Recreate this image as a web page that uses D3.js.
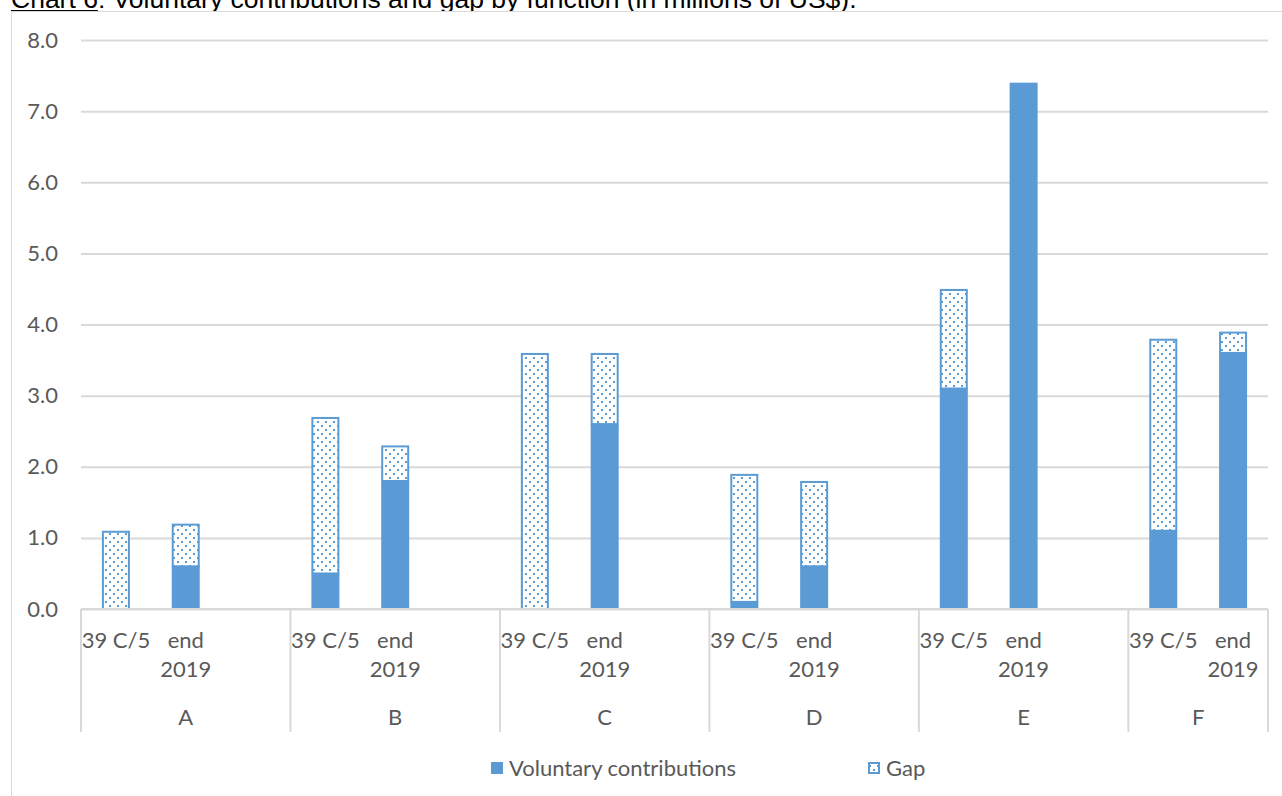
<!DOCTYPE html>
<html><head><meta charset="utf-8">
<script src="https://cdn.jsdelivr.net/npm/d3@7"></script>
<style>body{margin:0;background:#fff;} svg{display:block;}</style>
</head><body>
<svg id="c" width="1282" height="796"></svg>
<script>
const groups = ["A","B","C","D","E","F"];
const subLabels = ["39 C/5","end 2019"];
const voluntary = [[0,0.6],[0.5,1.8],[0,2.6],[0.1,0.6],[3.1,7.4],[1.1,3.6]];
const gap = [[1.1,0.6],[2.2,0.5],[3.6,1.0],[1.8,1.2],[1.4,0],[2.7,0.3]];
const yTicks = [0,1,2,3,4,5,6,7,8];
const seriesNames = ["Voluntary contributions","Gap"];
const titleText = "Voluntary contributions and gap by function (in millions of US$).";

const blue = "#5b9bd5", grid = "#d9d9d9", txt = "#595959";
const font = "Lato, 'Open Sans', sans-serif";
const fs = 22;
const svg = d3.select("#c");
const defs = svg.append("defs");
const pat = defs.append("pattern").attr("id","dots").attr("patternUnits","userSpaceOnUse")
  .attr("width",8).attr("height",8);
pat.append("rect").attr("width",8).attr("height",8).attr("fill","#fff");
pat.append("rect").attr("x",1).attr("y",1).attr("width",2).attr("height",2).attr("fill",blue);
pat.append("rect").attr("x",5).attr("y",5).attr("width",2).attr("height",2).attr("fill",blue);

// title (cut off at top, as in the reference)
const t = svg.append("text").attr("x",11).attr("y",8).attr("font-family","'Liberation Sans', Arial, sans-serif")
  .attr("font-size",26.5).attr("fill","#000");
t.append("tspan").attr("text-decoration","underline").text("Chart 6");
t.append("tspan").text(": " + titleText);

// chart border
svg.append("rect").attr("x",11.5).attr("y",11.5).attr("width",1300).attr("height",800)
  .attr("fill","#fff").attr("stroke",grid).attr("stroke-width",1);

// slots: each group has 3 slots (2 bars + blank), last group no blank
const slots = [];
groups.forEach((g,gi)=>{
  subLabels.forEach((s,si)=>slots.push({g,gi,si,key:g+"|"+si}));
  if (gi < groups.length-1) slots.push({g,gi,si:-1,key:g+"|blank"});
});
const x = d3.scaleBand().domain(slots.map(d=>d.key)).range([81,1268]).paddingInner(0).paddingOuter(0);
const y = d3.scaleLinear().domain([0,8]).range([609,40]);

// gridlines + y labels
const yAxis = d3.axisLeft(y).tickValues(yTicks).tickFormat(d3.format(".1f")).tickSize(-(1268-81)).tickPadding(23);
const ga = svg.append("g").attr("transform","translate(81,0)").call(yAxis);
ga.select(".domain").remove();
ga.selectAll(".tick line").attr("stroke",grid).attr("stroke-width",2);
ga.selectAll(".tick text").attr("font-family",font).attr("font-size",fs).attr("fill",txt);

// bars
const bw = 28;
const barData = slots.filter(d=>d.si>=0).map(d=>({
  ...d, v: voluntary[d.gi][d.si], gp: gap[d.gi][d.si]
}));
const bars = svg.append("g");
barData.forEach(d=>{
  const cx = x(d.key) + x.bandwidth()/2;
  if (d.v > 0) bars.append("rect").attr("x",cx-bw/2).attr("width",bw)
    .attr("y",y(d.v)).attr("height",y(0)-y(d.v)).attr("fill",blue);
  if (d.gp > 0) bars.append("rect").attr("x",cx-bw/2+1).attr("width",bw-2)
    .attr("y",y(d.v+d.gp)+1).attr("height",y(d.v)-y(d.v+d.gp)-1)
    .attr("fill","url(#dots)").attr("stroke",blue).attr("stroke-width",2);
});

// x axis line and dividers
svg.append("line").attr("x1",81).attr("x2",1268).attr("y1",609).attr("y2",609).attr("stroke",grid).attr("stroke-width",2);
const bounds = groups.map((g,gi)=>x(g+"|0")).concat([1268]);
bounds.forEach(b=>svg.append("line").attr("x1",b).attr("x2",b).attr("y1",609).attr("y2",732)
  .attr("stroke",grid).attr("stroke-width",2));

// sub labels
barData.forEach(d=>{
  const cx = x(d.key) + x.bandwidth()/2;
  const words = d.si===0 ? [subLabels[0]] : subLabels[1].split(" ");
  words.forEach((w,i)=>svg.append("text").attr("x",cx).attr("y",648+i*29)
    .attr("text-anchor","middle").attr("font-family",font).attr("font-size",fs).attr("fill",txt).text(w));
});
// group labels
groups.forEach((g,gi)=>{
  const a = bounds[gi], b = bounds[gi+1];
  svg.append("text").attr("x",(a+b)/2).attr("y",725).attr("text-anchor","middle")
    .attr("font-family",font).attr("font-size",fs).attr("fill",txt).text(g);
});

// legend
const lg = svg.append("g");
lg.append("rect").attr("x",491).attr("y",762).attr("width",12).attr("height",12).attr("fill",blue);
lg.append("text").attr("x",509).attr("y",776).attr("font-family",font).attr("font-size",fs).attr("fill",txt).text(seriesNames[0]);
lg.append("rect").attr("x",869).attr("y",763).attr("width",10).attr("height",10).attr("fill","url(#dots)").attr("stroke",blue).attr("stroke-width",2);
lg.append("text").attr("x",886).attr("y",776).attr("font-family",font).attr("font-size",fs).attr("fill",txt).text(seriesNames[1]);
</script>
</body></html>
